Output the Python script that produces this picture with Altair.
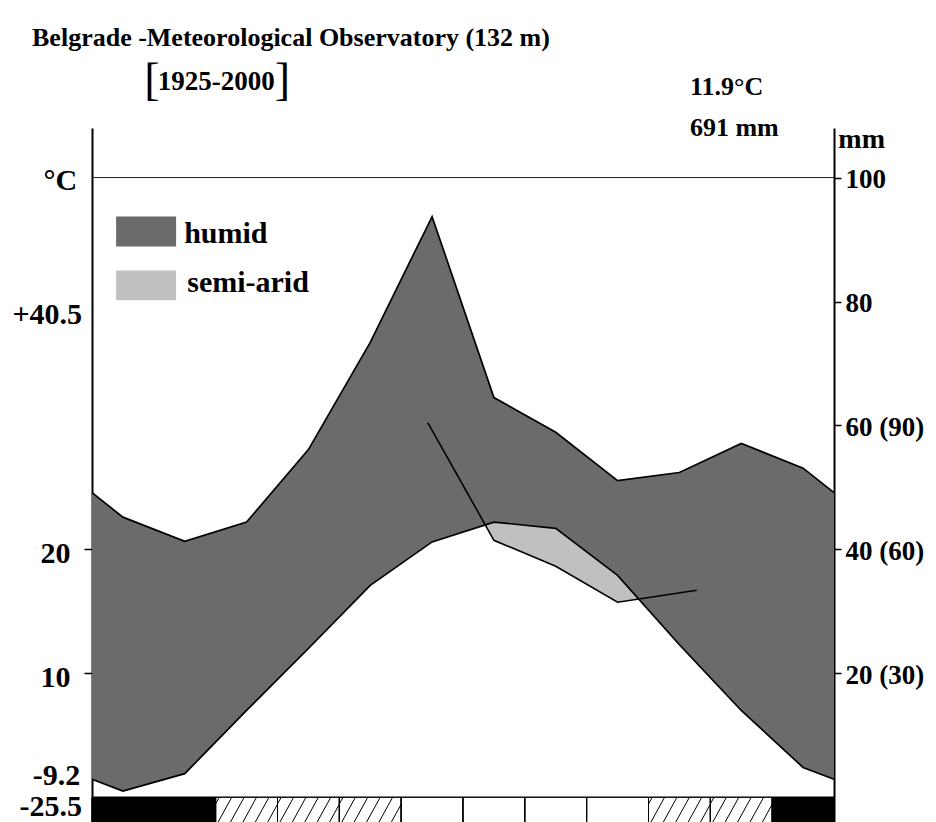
import altair as alt
import numpy as np
import pandas as pd

# ---------------- data ----------------
months = ["Jan", "Feb", "Mar", "Apr", "May", "Jun", "Jul", "Aug", "Sep", "Oct", "Nov", "Dec"]
temp_c = [0.5, 1.9, 7.0, 12.0, 17.1, 20.6, 22.2, 21.7, 17.9, 12.3, 7.0, 2.4]
precip_mm = [45.2, 41.3, 44.4, 56.1, 73.4, 93.7, 64.5, 58.9, 51.1, 52.4, 57.1, 53.1]
# precipitation drawn at the 1 degC = 3 mm scale (partial line)
sec_month_pos = [5.43, 6.5, 7.5, 8.5, 9.78]
sec_precip_mm = [90.7, 62.2, 55.9, 47.2, 50.1]
frost_class = ["frost", "frost", "probable", "probable", "probable", "none",
               "none", "none", "none", "probable", "probable", "frost"]

left_tick_values = [10, 20]
right_tick_values = [10, 20, 30, 40, 50]
right_tick_labels = ["20 (30)", "40 (60)", "60 (90)", "80", "100"]

title_text = "Belgrade -Meteorological Observatory (132 m)"
period_text = "1925-2000"
mean_temp_text = "11.9\u00b0C"
annual_precip_text = "691 mm"

legend_labels = ["humid", "semi-arid"]
legend_colors = ["#6b6b6b", "#c0c0c0"]

FONT = "Liberation Serif"
W, H = 742, 694
XDOM = [0, 12]
YDOM = [-2, 54]

xs = alt.Scale(domain=XDOM, nice=False, zero=False)
ys = alt.Scale(domain=YDOM, nice=False, zero=False)


def X(f):
    return alt.X(f, type="quantitative", scale=xs, axis=None)


def Y(f, axis=None):
    return alt.Y(f, type="quantitative", scale=ys, axis=axis)


# ---------------- derived tables ----------------
edge_t = (temp_c[0] + temp_c[-1]) / 2
edge_p = (precip_mm[0] + precip_mm[-1]) / 2
xpos = [0.0] + [i + 0.5 for i in range(12)] + [12.0]
main = pd.DataFrame({
    "x": xpos,
    "t": [edge_t] + temp_c + [edge_t],
    "p": [edge_p / 2] + [v / 2 for v in precip_mm] + [edge_p / 2],
})
sec = pd.DataFrame({"x": sec_month_pos, "s": [v / 3 for v in sec_precip_mm]})

# semi-arid polygon: where temperature lies above the 1:3 precipitation line
bps = sorted(set([v for v in xpos if sec_month_pos[0] <= v <= sec_month_pos[-1]] + sec_month_pos))
tt = np.interp(bps, main["x"], main["t"])
ss = np.interp(bps, sec["x"], sec["s"])
d = tt - ss
rows = []
for i in range(len(bps)):
    if i > 0 and (d[i - 1] < 0) != (d[i] < 0):
        f = d[i - 1] / (d[i - 1] - d[i])
        xc = bps[i - 1] + f * (bps[i] - bps[i - 1])
        yc = tt[i - 1] + f * (tt[i] - tt[i - 1])
        rows.append({"x": xc, "t": yc, "s": yc})
    if d[i] >= 0:
        rows.append({"x": bps[i], "t": tt[i], "s": ss[i]})
semi = pd.DataFrame(rows)

# frost bar
fill_map = {"frost": "black", "probable": "white", "none": "white"}
bar = pd.DataFrame({
    "x0": list(range(12)), "x1": list(range(1, 13)),
    "y0": [0] * 12, "y1": [-2.6] * 12,
    "fill": [fill_map[c] for c in frost_class],
})
# hatching for "probable" frost months
px_per_x = W / (XDOM[1] - XDOM[0])
bar_h = 2.6
dx_h = 0.55 * bar_h * (H / (YDOM[1] - YDOM[0])) / px_per_x
step = 12.4 / px_per_x
hatch = []
for i, c in enumerate(frost_class):
    if c != "probable":
        continue
    x0, x1 = i, i + 1
    xb = x0 - dx_h + 0.06
    while xb < x1:
        tmin = max(0.0, (x0 - xb) / dx_h)
        tmax = min(1.0, (x1 - xb) / dx_h)
        if tmin < tmax:
            hatch.append({"xa": xb + tmin * dx_h, "ya": -bar_h + tmin * bar_h,
                          "xb": xb + tmax * dx_h, "yb": -bar_h + tmax * bar_h})
        xb += step
hatch = pd.DataFrame(hatch)

# ---------------- layers ----------------
left_axis = alt.Axis(orient="left", values=left_tick_values, title=None, grid=False,
                     tickSize=8, tickWidth=1.5, tickColor="black",
                     domainColor="black", domainWidth=2,
                     labelFont=FONT, labelFontSize=30, labelFontWeight="bold",
                     labelColor="black", labelPadding=14, labelBaseline="middle",
                     labelOffset=4)
label_expr = " : ".join(
    [f"datum.value == {v} ? '{l}'" for v, l in zip(right_tick_values, right_tick_labels)]
) + " : ''"
right_axis = alt.Axis(orient="right", values=right_tick_values, title=None, grid=False,
                      tickSize=7, tickWidth=1.5, tickColor="black",
                      domainColor="black", domainWidth=2,
                      labelFont=FONT, labelFontSize=27, labelFontWeight="bold",
                      labelColor="black", labelPadding=4, labelBaseline="middle",
                      labelOffset=2, labelExpr=label_expr)

humid_area = alt.Chart(main).mark_area(color=legend_colors[0], opacity=1).encode(
    x=X("x"), y=Y("p", left_axis), y2="t")
semi_area = alt.Chart(semi).mark_area(color=legend_colors[1], opacity=1).encode(
    x=X("x"), y=Y("t"), y2="s")
p_line = alt.Chart(main).mark_line(color="black", strokeWidth=1.7).encode(
    x=X("x"), y=Y("p", right_axis))
t_line = alt.Chart(main).mark_line(color="black", strokeWidth=1.7).encode(
    x=X("x"), y=Y("t"))
s_line = alt.Chart(sec).mark_line(color="black", strokeWidth=1.6).encode(
    x=X("x"), y=Y("s"))

top_line = alt.Chart(pd.DataFrame({"y": [50]})).mark_rule(color="#222", strokeWidth=1).encode(
    y=Y("y"))

bar_fill = alt.Chart(bar).mark_rect(stroke="black", strokeWidth=1).encode(
    x=X("x0"), x2="x1", y=Y("y0"), y2="y1", fill=alt.Fill("fill:N", scale=None))
hatch_lines = alt.Chart(hatch).mark_rule(color="black", strokeWidth=1).encode(
    x=X("xa"), x2="xb", y=Y("ya"), y2="yb")
bar_edges = alt.Chart(bar).mark_rect(stroke="black", strokeWidth=1, fillOpacity=0).encode(
    x=X("x0"), x2="x1", y=Y("y0"), y2="y1")

# legend swatches
leg = pd.DataFrame({
    "x0": [0.39, 0.39], "x1": [1.36, 1.36],
    "y0": [46.85, 42.5], "y1": [44.44, 40.1],
    "fill": legend_colors, "label": legend_labels,
    "lx": [1.49, 1.54], "ly": [45.45, 41.5],
})
leg_rect = alt.Chart(leg).mark_rect().encode(
    x=X("x0"), x2="x1", y=Y("y0"), y2="y1", fill=alt.Fill("fill:N", scale=None))
leg_text = alt.Chart(leg).mark_text(font=FONT, fontSize=30, fontWeight="bold",
                                    align="left", baseline="middle", color="black").encode(
    x=X("lx"), y=Y("ly"), text="label:N")


def txt(df, size, align, weight="bold"):
    return alt.Chart(df).mark_text(font=FONT, fontSize=size, fontWeight=weight,
                                   align=align, baseline="middle", color="black").encode(
        x=X("x"), y=Y("y"), text="t:N")


title_l = txt(pd.DataFrame({"x": [-0.97], "y": [61.3], "t": [title_text]}), 26, "left")
period_l = txt(pd.DataFrame({"x": [2.01], "y": [57.7], "t": [period_text]}), 27, "center")
brackets = txt(pd.DataFrame({"x": [0.97, 3.08], "y": [57.8, 57.8], "t": ["[", "]"]}), 46,
               "center", weight="normal")
info_l = txt(pd.DataFrame({"x": [9.67, 9.67], "y": [57.3, 54.0],
                           "t": [mean_temp_text, annual_precip_text]}), 26, "left")
mm_l = txt(pd.DataFrame({"x": [12.07], "y": [53.0], "t": ["mm"]}), 28, "left")
left_labels = txt(pd.DataFrame({
    "x": [-0.24, -0.16, -0.19, -0.16],
    "y": [49.7, 38.95, 1.7, -0.8],
    "t": ["\u00b0C", "+40.5", "-9.2", "-25.5"]}), 30, "right")

chart = alt.layer(
    humid_area, semi_area, top_line, bar_fill, hatch_lines, bar_edges,
    p_line, t_line, s_line, leg_rect, leg_text,
    title_l, period_l, brackets, info_l, mm_l, left_labels,
).resolve_axis(y="independent").properties(
    width=W, height=H,
    padding={"left": 84, "top": 120, "right": 94, "bottom": 0},
    autosize=alt.AutoSizeParams(type="none"),
    background="white",
).configure_view(stroke=None)

chart.save("out.html", embed_options={"renderer": "svg", "actions": False})
